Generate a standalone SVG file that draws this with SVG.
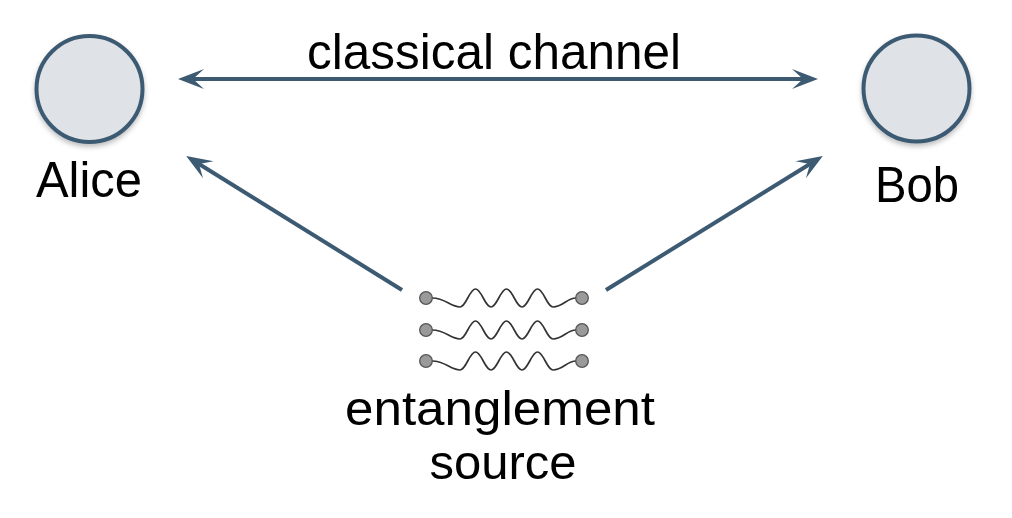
<svg xmlns="http://www.w3.org/2000/svg" xmlns:xlink="http://www.w3.org/1999/xlink" width="1012" height="518" viewBox="0 0 1012 518">
<style>
  .lbl { font-family: "Liberation Sans", Arial, sans-serif; font-size: 50px; fill: #000; text-anchor: middle; }
  .src { font-size: 48px; }
  .node { fill: #dfe2e6; stroke: #3d5a73; stroke-width: 4; }
  .conn { stroke: #3d5a73; stroke-width: 4; fill: none; }
  .wave { stroke: #333; stroke-width: 1.7; fill: none; }
  .dot { fill: #9a9a9a; stroke: #555; stroke-width: 1.3; }
</style>
<defs>
  <marker id="arr" markerUnits="userSpaceOnUse" viewBox="-28 -12 30 24" refX="-8" refY="0" markerWidth="30" markerHeight="24" orient="auto-start-reverse">
    <path d="M0,0 L-26,-10 L-15,0 L-26,10 Z" fill="#3d5a73"/>
  </marker>
  <filter id="sh" x="-20%" y="-20%" width="140%" height="150%">
    <feDropShadow dx="0" dy="3" stdDeviation="2.5" flood-color="#000" flood-opacity="0.25"/>
  </filter>
  <g id="pair">
    <path class="wave" d="M432,0 C446,0 450,9 460,9 C466,9 469.5,-9 475.5,-9 C481.5,-9 485,9 491,9 C497,9 500.5,-9 506.5,-9 C512.5,-9 516,9 522,9 C528,9 531.5,-9 537.5,-9 C543.5,-9 547,9 553,9 C563,9 567,0 576,0"/>
    <circle class="dot" cx="426" cy="0" r="6.3"/>
    <circle class="dot" cx="582" cy="0" r="6.3"/>
  </g>
</defs>
<rect width="1012" height="518" fill="#fff"/>
<g id="connectors">
  <line class="conn" x1="186" y1="79" x2="810" y2="79" marker-start="url(#arr)" marker-end="url(#arr)"/>
  <line class="conn" x1="402" y1="290" x2="193" y2="160.2" marker-end="url(#arr)"/>
  <line class="conn" x1="606" y1="290" x2="816" y2="160.2" marker-end="url(#arr)"/>
</g>
<text class="lbl" x="494" y="69" textLength="374" lengthAdjust="spacingAndGlyphs">classical channel</text>
<g id="alice">
  <circle class="node" cx="89.5" cy="89" r="53" filter="url(#sh)"/>
  <text class="lbl" x="89" y="197" textLength="106" lengthAdjust="spacingAndGlyphs">Alice</text>
</g>
<g id="bob">
  <circle class="node" cx="916.5" cy="88.5" r="53" filter="url(#sh)"/>
  <text class="lbl" x="917" y="202" textLength="84" lengthAdjust="spacingAndGlyphs">Bob</text>
</g>
<g id="source">
  <use xlink:href="#pair" transform="translate(0,298)"/>
  <use xlink:href="#pair" transform="translate(0,330)"/>
  <use xlink:href="#pair" transform="translate(0,361)"/>
  <text class="lbl src" x="500" y="425" textLength="310" lengthAdjust="spacingAndGlyphs">entanglement</text>
  <text class="lbl src" x="503" y="479" textLength="147" lengthAdjust="spacingAndGlyphs">source</text>
</g>
</svg>
